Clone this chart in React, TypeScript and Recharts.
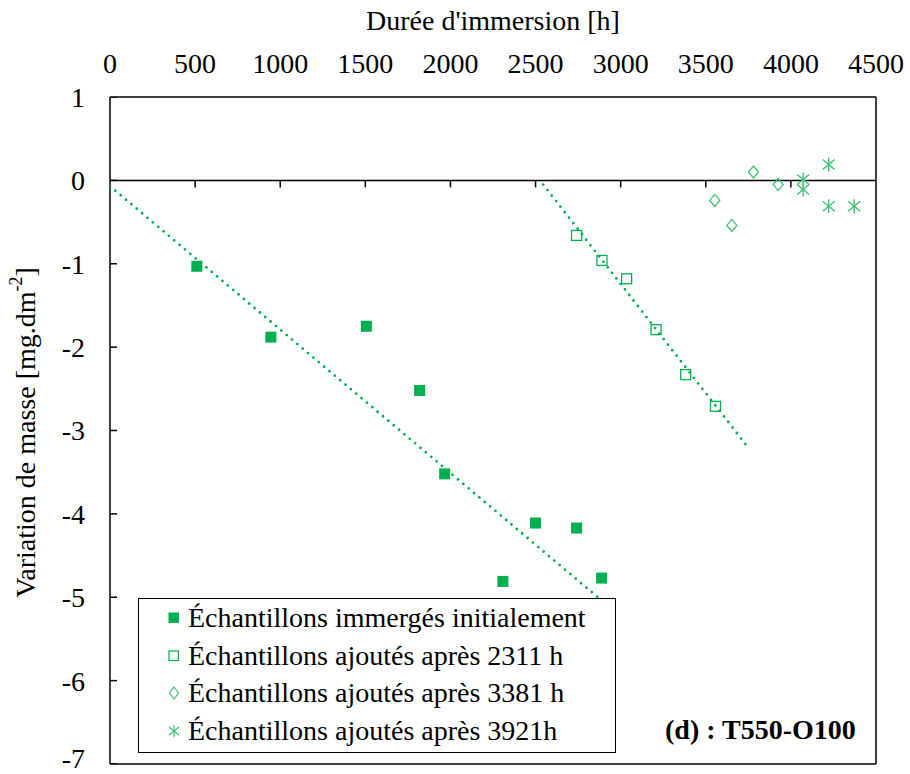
import React from 'react';
import {
    ScatterChart, Scatter, XAxis, YAxis, ReferenceLine, Legend, Label,
} from 'recharts';

const X_TICKS = [0, 500, 1000, 1500, 2000, 2500, 3000, 3500, 4000, 4500];
const Y_TICKS = [1, 0, -1, -2, -3, -4, -5, -6, -7];

// Échantillons immergés initialement
const INITIAL_X = [510, 945, 1506, 1819, 1966, 2308, 2500, 2741, 2888];
const INITIAL_Y = [-1.03, -1.88, -1.75, -2.52, -3.52, -4.81, -4.11, -4.17, -4.77];
// ajoutés après 2311 h
const ADDED_2311_X = [2741, 2890, 3035, 3208, 3382, 3557];
const ADDED_2311_Y = [-0.66, -0.96, -1.18, -1.79, -2.33, -2.71];
// ajoutés après 3381 h
const ADDED_3381_X = [3553, 3653, 3780, 3925];
const ADDED_3381_Y = [-0.24, -0.54, 0.10, -0.05];
// ajoutés après 3921h
const ADDED_3921_X = [4072, 4072, 4222, 4222, 4372];
const ADDED_3921_Y = [0.01, -0.11, 0.19, -0.31, -0.31];

// dotted trend lines (end points)
const TREND_1_X = [0, 2924];
const TREND_1_Y = [-0.07, -5.10];
const TREND_2_X = [2545, 3751];
const TREND_2_Y = [-0.05, -3.21];

const LEGEND_NAMES = [
    'Échantillons immergés initialement',
    'Échantillons ajoutés après 2311 h',
    'Échantillons ajoutés après 3381 h',
    'Échantillons ajoutés après 3921h',
];

const GREEN = '#00b050';
const LIGHT_GREEN = '#3cc272';
const FONT = 'Liberation Serif, Times New Roman, serif';

const zip = (xs: number[], ys: number[]) => xs.map((x, i) => ({ x, y: ys[i] }));

function FilledSquare({ cx, cy }: any) {
    return <rect x={cx - 5.5} y={cy - 5.5} width={11} height={11} fill={GREEN} />;
}
function OpenSquare({ cx, cy }: any) {
    return <rect x={cx - 5} y={cy - 5} width={10} height={10} fill="none" stroke={GREEN} strokeWidth={1.3} />;
}
function Diamond({ cx, cy }: any) {
    return (
        <path d={`M${cx},${cy - 6} L${cx + 5},${cy} L${cx},${cy + 6} L${cx - 5},${cy} Z`}
            fill="none" stroke={LIGHT_GREEN} strokeWidth={1.3} />
    );
}
function Asterisk({ cx, cy }: any) {
    return (
        <g stroke={LIGHT_GREEN} strokeWidth={1.4}>
            <line x1={cx} y1={cy - 7} x2={cx} y2={cy + 7} />
            <line x1={cx - 6} y1={cy - 5} x2={cx + 6} y2={cy + 5} />
            <line x1={cx - 6} y1={cy + 5} x2={cx + 6} y2={cy - 5} />
        </g>
    );
}
function XTickMark({ cx, cy }: any) {
    return <line x1={cx} y1={cy} x2={cx} y2={cy + 7} stroke="#000" strokeWidth={1.5} />;
}
function YTickMark({ cx, cy }: any) {
    return <line x1={cx} y1={cy} x2={cx + 7} y2={cy} stroke="#000" strokeWidth={1.5} />;
}
const NoShape = () => <g />;

function LegendIcon({ i }: { i: number }) {
    return (
        <svg width={12} height={14} style={{ marginRight: 8, flex: 'none' }}>
            {i === 0 && <rect x={0.5} y={1.5} width={10.5} height={10.5} fill={GREEN} />}
            {i === 1 && <rect x={1} y={2} width={9.5} height={9.5} fill="none" stroke={GREEN} strokeWidth={1.2} />}
            {i === 2 && <path d="M6,1 L10.5,7 L6,13 L1.5,7 Z" fill="none" stroke={LIGHT_GREEN} strokeWidth={1.2} />}
            {i === 3 && (
                <g stroke={LIGHT_GREEN} strokeWidth={1.2}>
                    <line x1={6} y1={1} x2={6} y2={13} />
                    <line x1={1} y1={3} x2={11} y2={11} />
                    <line x1={1} y1={11} x2={11} y2={3} />
                </g>
            )}
        </svg>
    );
}

function LegendBox() {
    return (
        <div style={{
            border: '1.5px solid #000', background: '#fff', boxSizing: 'border-box',
            width: 478, height: 155, padding: '0 0 0 29px', fontFamily: FONT, fontSize: 28,
        }}>
            {LEGEND_NAMES.map((name, i) => (
                <div key={name} style={{
                    display: 'flex', alignItems: 'center', height: 37.7, lineHeight: '37.7px',
                    color: '#000', whiteSpace: 'nowrap',
                }}>
                    <LegendIcon i={i} />
                    <span>{name}</span>
                </div>
            ))}
        </div>
    );
}

function YTitle({ viewBox }: any) {
    const cy = viewBox.y + viewBox.height / 2 + 2;
    return (
        <text x={25} y={cy} transform={`rotate(-90, 25, ${cy})`} textAnchor="middle"
            dominantBaseline="central" fontFamily={FONT} fontSize={28} fill="#000">
            Variation de masse [mg.dm<tspan dy={-9} fontSize={18}>-2</tspan><tspan dy={9}>]</tspan>
        </text>
    );
}

export default function App() {
    const tickStyle = { fontSize: 28, fill: '#000', fontFamily: FONT };
    return (
        <div style={{ position: 'absolute', left: 0, top: 0, width: 910, height: 774, background: '#fff' }}>
            <ScatterChart width={910} height={774} margin={{ top: 0, right: 34, bottom: 10, left: 0 }}>
                <XAxis
                    type="number"
                    dataKey="x"
                    orientation="top"
                    domain={[0, 4500]}
                    ticks={X_TICKS}
                    height={97}
                    tick={tickStyle}
                    tickLine={false}
                    tickSize={6}
                    tickMargin={18}
                    axisLine={{ stroke: '#000', strokeWidth: 1.5 }}
                    allowDataOverflow
                >
                    <Label value="Durée d'immersion [h]" position="insideTop" offset={10}
                        style={{ fontSize: 28, fill: '#000', fontFamily: FONT }} />
                </XAxis>
                <YAxis
                    type="number"
                    dataKey="y"
                    domain={[-7, 1]}
                    ticks={Y_TICKS}
                    width={110}
                    tick={tickStyle}
                    tickLine={false}
                    tickSize={6}
                    tickMargin={19}
                    axisLine={{ stroke: '#000', strokeWidth: 1.5 }}
                    allowDataOverflow
                >
                    <Label content={<YTitle />} />
                </YAxis>

                <ReferenceLine x={4500} stroke="#000" strokeWidth={1.5} />
                <ReferenceLine y={-7} stroke="#000" strokeWidth={1.5} />
                <ReferenceLine y={0} stroke="#000" strokeWidth={1.5} />

                <Scatter data={X_TICKS.slice(1, -1).map(x => ({ x, y: 0 }))} shape={XTickMark}
                    legendType="none" isAnimationActive={false} />
                <Scatter data={Y_TICKS.map(y => ({ x: 0, y }))} shape={YTickMark}
                    legendType="none" isAnimationActive={false} />

                <Scatter data={zip(TREND_1_X, TREND_1_Y)} shape={NoShape} legendType="none"
                    line={{ stroke: GREEN, strokeWidth: 2.8, strokeDasharray: '0 7', strokeLinecap: 'round' }}
                    isAnimationActive={false} />
                <Scatter data={zip(TREND_2_X, TREND_2_Y)} shape={NoShape} legendType="none"
                    line={{ stroke: GREEN, strokeWidth: 2.8, strokeDasharray: '0 7', strokeLinecap: 'round' }}
                    isAnimationActive={false} />

                <Scatter name={LEGEND_NAMES[0]} data={zip(INITIAL_X, INITIAL_Y)} shape={FilledSquare} isAnimationActive={false} />
                <Scatter name={LEGEND_NAMES[1]} data={zip(ADDED_2311_X, ADDED_2311_Y)} shape={OpenSquare} isAnimationActive={false} />
                <Scatter name={LEGEND_NAMES[2]} data={zip(ADDED_3381_X, ADDED_3381_Y)} shape={Diamond} isAnimationActive={false} />
                <Scatter name={LEGEND_NAMES[3]} data={zip(ADDED_3921_X, ADDED_3921_Y)} shape={Asterisk} isAnimationActive={false} />

                <Legend
                    layout="vertical"
                    align="center"
                    verticalAlign="middle"
                    content={() => <LegendBox />}
                    wrapperStyle={{ left: 138, top: 598, width: 478, height: 155 }}
                />
            </ScatterChart>
            <div style={{
                position: 'absolute', left: 665, top: 714, fontFamily: FONT, fontSize: 28,
                lineHeight: '31px', fontWeight: 'bold', color: '#000', whiteSpace: 'nowrap',
            }}>
                (d) : T550-O100
            </div>
        </div>
    );
}
